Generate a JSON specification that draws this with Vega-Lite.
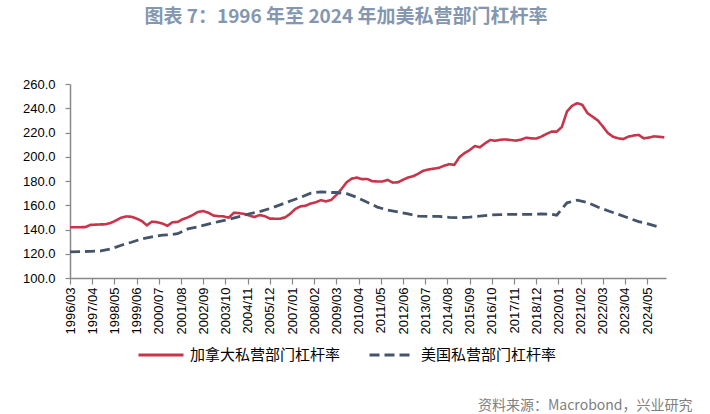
{
  "$schema": "https://vega.github.io/schema/vega-lite/v6.json",
  "autosize": "none",
  "width": 596,
  "height": 194,
  "padding": {"left": 70, "top": 84, "right": 44, "bottom": 136},
  "background": "white",
  "config": {
    "view": {"stroke": null},
    "font": "Liberation Sans"
  },
  "title": {
    "text": "图表 7：1996 年至 2024 年加美私营部门杠杆率",
    "font": "Noto Sans CJK SC",
    "fontSize": 19,
    "fontWeight": "bold",
    "color": "#8497B0",
    "frame": "group",
    "anchor": "middle",
    "dx": -22,
    "offset": 51
  },
  "datasets": {
    "canada": [
      {"date": "1996/03/01", "value": 141.8}, {"date": "1996/06/01", "value": 141.8}, {"date": "1996/09/01", "value": 141.9}, {"date": "1996/12/01", "value": 142.0},
      {"date": "1997/03/01", "value": 143.8}, {"date": "1997/06/01", "value": 144.0}, {"date": "1997/09/01", "value": 144.2}, {"date": "1997/12/01", "value": 144.3},
      {"date": "1998/03/01", "value": 145.5}, {"date": "1998/06/01", "value": 147.5}, {"date": "1998/09/01", "value": 149.8}, {"date": "1998/12/01", "value": 150.8},
      {"date": "1999/03/01", "value": 150.5}, {"date": "1999/06/01", "value": 149.0}, {"date": "1999/09/01", "value": 147.0}, {"date": "1999/12/01", "value": 143.5},
      {"date": "2000/03/01", "value": 146.5}, {"date": "2000/06/01", "value": 146.0}, {"date": "2000/09/01", "value": 145.0}, {"date": "2000/12/01", "value": 143.0},
      {"date": "2001/03/01", "value": 146.0}, {"date": "2001/06/01", "value": 146.2}, {"date": "2001/09/01", "value": 148.5}, {"date": "2001/12/01", "value": 150.0},
      {"date": "2002/03/01", "value": 152.0}, {"date": "2002/06/01", "value": 154.5}, {"date": "2002/09/01", "value": 155.2}, {"date": "2002/12/01", "value": 153.8},
      {"date": "2003/03/01", "value": 151.5}, {"date": "2003/06/01", "value": 151.0}, {"date": "2003/09/01", "value": 150.8}, {"date": "2003/12/01", "value": 149.8},
      {"date": "2004/03/01", "value": 153.8}, {"date": "2004/06/01", "value": 153.5}, {"date": "2004/09/01", "value": 152.8}, {"date": "2004/12/01", "value": 151.5},
      {"date": "2005/03/01", "value": 150.3}, {"date": "2005/06/01", "value": 151.9}, {"date": "2005/09/01", "value": 151.0}, {"date": "2005/12/01", "value": 149.0},
      {"date": "2006/03/01", "value": 148.9}, {"date": "2006/06/01", "value": 148.9}, {"date": "2006/09/01", "value": 150.0}, {"date": "2006/12/01", "value": 153.0},
      {"date": "2007/03/01", "value": 157.0}, {"date": "2007/06/01", "value": 159.1}, {"date": "2007/09/01", "value": 159.6}, {"date": "2007/12/01", "value": 161.5},
      {"date": "2008/03/01", "value": 162.5}, {"date": "2008/06/01", "value": 164.2}, {"date": "2008/09/01", "value": 163.2}, {"date": "2008/12/01", "value": 164.5},
      {"date": "2009/03/01", "value": 168.5}, {"date": "2009/06/01", "value": 173.5}, {"date": "2009/09/01", "value": 179.0}, {"date": "2009/12/01", "value": 182.0},
      {"date": "2010/03/01", "value": 182.8}, {"date": "2010/06/01", "value": 181.5}, {"date": "2010/09/01", "value": 181.7}, {"date": "2010/12/01", "value": 179.8},
      {"date": "2011/03/01", "value": 179.6}, {"date": "2011/06/01", "value": 179.6}, {"date": "2011/09/01", "value": 180.9}, {"date": "2011/12/01", "value": 178.7},
      {"date": "2012/03/01", "value": 178.9}, {"date": "2012/06/01", "value": 181.0}, {"date": "2012/09/01", "value": 182.9}, {"date": "2012/12/01", "value": 184.0},
      {"date": "2013/03/01", "value": 186.0}, {"date": "2013/06/01", "value": 188.5}, {"date": "2013/09/01", "value": 189.5}, {"date": "2013/12/01", "value": 190.2},
      {"date": "2014/03/01", "value": 190.8}, {"date": "2014/06/01", "value": 192.5}, {"date": "2014/09/01", "value": 193.9}, {"date": "2014/12/01", "value": 193.3},
      {"date": "2015/03/01", "value": 199.5}, {"date": "2015/06/01", "value": 203.0}, {"date": "2015/09/01", "value": 205.5}, {"date": "2015/12/01", "value": 208.8},
      {"date": "2016/03/01", "value": 207.8}, {"date": "2016/06/01", "value": 211.0}, {"date": "2016/09/01", "value": 213.8}, {"date": "2016/12/01", "value": 213.2},
      {"date": "2017/03/01", "value": 214.0}, {"date": "2017/06/01", "value": 214.3}, {"date": "2017/09/01", "value": 213.8}, {"date": "2017/12/01", "value": 213.3},
      {"date": "2018/03/01", "value": 214.0}, {"date": "2018/06/01", "value": 215.7}, {"date": "2018/09/01", "value": 215.2}, {"date": "2018/12/01", "value": 215.0},
      {"date": "2019/03/01", "value": 216.6}, {"date": "2019/06/01", "value": 218.8}, {"date": "2019/09/01", "value": 220.7}, {"date": "2019/12/01", "value": 220.7},
      {"date": "2020/03/01", "value": 224.5}, {"date": "2020/06/01", "value": 237.3}, {"date": "2020/09/01", "value": 242.0}, {"date": "2020/12/01", "value": 244.2},
      {"date": "2021/03/01", "value": 242.8}, {"date": "2021/06/01", "value": 236.0}, {"date": "2021/09/01", "value": 233.0}, {"date": "2021/12/01", "value": 230.0},
      {"date": "2022/03/01", "value": 225.0}, {"date": "2022/06/01", "value": 219.5}, {"date": "2022/09/01", "value": 216.5}, {"date": "2022/12/01", "value": 215.2},
      {"date": "2023/03/01", "value": 214.6}, {"date": "2023/06/01", "value": 216.6}, {"date": "2023/09/01", "value": 217.5}, {"date": "2023/12/01", "value": 218.0},
      {"date": "2024/03/01", "value": 215.2}, {"date": "2024/06/01", "value": 215.8}, {"date": "2024/09/01", "value": 216.8}, {"date": "2024/12/01", "value": 216.5},
      {"date": "2025/03/01", "value": 216.0}
    ],
    "us": [
      {"date": "1996/03/01", "value": 121.5}, {"date": "1997/03/01", "value": 122.0}, {"date": "1997/09/01", "value": 122.3},
      {"date": "1998/03/01", "value": 124.0}, {"date": "1998/09/01", "value": 127.0}, {"date": "1999/03/01", "value": 129.5}, {"date": "1999/09/01", "value": 132.3},
      {"date": "2000/03/01", "value": 134.0}, {"date": "2000/09/01", "value": 135.3}, {"date": "2001/03/01", "value": 135.9}, {"date": "2001/06/01", "value": 136.5},
      {"date": "2001/12/01", "value": 140.5}, {"date": "2002/06/01", "value": 142.3}, {"date": "2002/12/01", "value": 144.5}, {"date": "2003/06/01", "value": 146.5},
      {"date": "2003/12/01", "value": 148.3}, {"date": "2004/06/01", "value": 150.6}, {"date": "2004/12/01", "value": 153.0}, {"date": "2005/06/01", "value": 154.8},
      {"date": "2005/12/01", "value": 157.3}, {"date": "2006/06/01", "value": 160.3}, {"date": "2006/12/01", "value": 163.5}, {"date": "2007/06/01", "value": 166.5},
      {"date": "2007/12/01", "value": 170.0}, {"date": "2008/06/01", "value": 171.0}, {"date": "2008/12/01", "value": 170.5}, {"date": "2009/03/01", "value": 170.5},
      {"date": "2009/09/01", "value": 169.5}, {"date": "2010/03/01", "value": 166.5}, {"date": "2010/09/01", "value": 162.5}, {"date": "2011/03/01", "value": 158.5},
      {"date": "2011/09/01", "value": 156.0}, {"date": "2012/03/01", "value": 154.5}, {"date": "2012/09/01", "value": 152.8}, {"date": "2013/03/01", "value": 151.0},
      {"date": "2013/09/01", "value": 150.8}, {"date": "2014/03/01", "value": 150.8}, {"date": "2014/09/01", "value": 150.0}, {"date": "2015/03/01", "value": 149.8},
      {"date": "2015/09/01", "value": 150.2}, {"date": "2016/03/01", "value": 151.0}, {"date": "2016/09/01", "value": 151.9}, {"date": "2017/03/01", "value": 152.3},
      {"date": "2017/09/01", "value": 152.5}, {"date": "2018/03/01", "value": 152.5}, {"date": "2018/09/01", "value": 152.5}, {"date": "2019/03/01", "value": 152.8},
      {"date": "2019/09/01", "value": 152.5}, {"date": "2019/12/01", "value": 151.8}, {"date": "2020/06/01", "value": 162.0}, {"date": "2020/12/01", "value": 164.2},
      {"date": "2021/06/01", "value": 162.3}, {"date": "2021/12/01", "value": 158.5}, {"date": "2022/06/01", "value": 155.5}, {"date": "2022/12/01", "value": 152.5},
      {"date": "2023/06/01", "value": 149.5}, {"date": "2023/12/01", "value": 146.5}, {"date": "2024/06/01", "value": 144.5}, {"date": "2024/12/01", "value": 142.0}
    ]
  },
  "layer": [
    {
      "data": {"name": "canada"},
      "transform": [{"calculate": "'加拿大私营部门杠杆率'", "as": "series"}],
      "mark": {"type": "line", "strokeWidth": 2.6},
      "encoding": {
        "x": {"field": "date", "type": "temporal"},
        "y": {"field": "value", "type": "quantitative"},
        "color": {"field": "series", "type": "nominal"},
        "strokeDash": {"field": "series", "type": "nominal"}
      }
    },
    {
      "data": {"name": "us"},
      "transform": [{"calculate": "'美国私营部门杠杆率'", "as": "series"}],
      "mark": {"type": "line", "strokeWidth": 2.8},
      "encoding": {
        "x": {"field": "date", "type": "temporal"},
        "y": {"field": "value", "type": "quantitative"},
        "color": {"field": "series", "type": "nominal"},
        "strokeDash": {"field": "series", "type": "nominal"}
      }
    }
  ],
  "encoding": {
    "x": {
      "field": "date",
      "type": "temporal",
      "scale": {"domain": [{"year": 1996, "month": 3, "date": 1}, {"year": 2025, "month": 4, "date": 1}]},
      "axis": {
        "values": [
          {"year": 1996, "month": 3, "date": 1}, {"year": 1997, "month": 4, "date": 1}, {"year": 1998, "month": 5, "date": 1},
          {"year": 1999, "month": 6, "date": 1}, {"year": 2000, "month": 7, "date": 1}, {"year": 2001, "month": 8, "date": 1},
          {"year": 2002, "month": 9, "date": 1}, {"year": 2003, "month": 10, "date": 1}, {"year": 2004, "month": 11, "date": 1},
          {"year": 2005, "month": 12, "date": 1}, {"year": 2007, "month": 1, "date": 1}, {"year": 2008, "month": 2, "date": 1},
          {"year": 2009, "month": 3, "date": 1}, {"year": 2010, "month": 4, "date": 1}, {"year": 2011, "month": 5, "date": 1},
          {"year": 2012, "month": 6, "date": 1}, {"year": 2013, "month": 7, "date": 1}, {"year": 2014, "month": 8, "date": 1},
          {"year": 2015, "month": 9, "date": 1}, {"year": 2016, "month": 10, "date": 1}, {"year": 2017, "month": 11, "date": 1},
          {"year": 2018, "month": 12, "date": 1}, {"year": 2020, "month": 1, "date": 1}, {"year": 2021, "month": 2, "date": 1},
          {"year": 2022, "month": 3, "date": 1}, {"year": 2023, "month": 4, "date": 1}, {"year": 2024, "month": 5, "date": 1}
        ],
        "format": "%Y/%m",
        "labelAngle": -90,
        "labelFont": "Liberation Sans",
        "labelFontSize": 13,
        "labelColor": "#000000",
        "labelPadding": 3,
        "labelOverlap": false,
        "labelFlush": false,
        "grid": false,
        "domainColor": "#888888",
        "domainWidth": 1.5,
        "tickColor": "#888888",
        "tickWidth": 1.2,
        "tickSize": 6,
        "title": "资料来源：Macrobond，兴业研究",
        "titleFont": "Noto Sans CJK SC",
        "titleFontSize": 14,
        "titleFontWeight": "normal",
        "titleColor": "#808080",
        "titleAnchor": "end",
        "titleAlign": "right",
        "titleBaseline": "middle",
        "titleX": 622,
        "titleY": 127
      }
    },
    "y": {
      "field": "value",
      "type": "quantitative",
      "scale": {"domain": [100, 260], "nice": false, "zero": false},
      "axis": {
        "values": [100, 120, 140, 160, 180, 200, 220, 240, 260],
        "format": ".1f",
        "labelFont": "Liberation Sans",
        "labelFontSize": 13,
        "labelColor": "#000000",
        "labelPadding": 10,
        "grid": false,
        "domainColor": "#888888",
        "domainWidth": 1.5,
        "tickColor": "#888888",
        "tickWidth": 1.2,
        "tickSize": 5,
        "title": null
      }
    },
    "color": {
      "field": "series",
      "type": "nominal",
      "scale": {"domain": ["加拿大私营部门杠杆率", "美国私营部门杠杆率"], "range": ["#C8354A", "#44546A"]},
      "legend": {
        "title": null,
        "orient": "none",
        "legendX": 67,
        "legendY": 247,
        "direction": "horizontal",
        "symbolType": "stroke",
        "symbolSize": 2025,
        "symbolStrokeWidth": 3,
        "labelFont": "Noto Sans CJK SC",
        "labelFontSize": 15,
        "labelColor": "#000000",
        "labelOffset": 5,
        "columnPadding": 22
      }
    },
    "strokeDash": {
      "field": "series",
      "type": "nominal",
      "scale": {"domain": ["加拿大私营部门杠杆率", "美国私营部门杠杆率"], "range": [[1, 0], [10, 5]]},
      "legend": {
        "title": null,
        "orient": "none",
        "legendX": 67,
        "legendY": 247,
        "direction": "horizontal",
        "symbolType": "stroke",
        "symbolSize": 2025,
        "symbolStrokeWidth": 3,
        "labelFont": "Noto Sans CJK SC",
        "labelFontSize": 15,
        "labelColor": "#000000",
        "labelOffset": 5,
        "columnPadding": 22
      }
    }
  }
}
